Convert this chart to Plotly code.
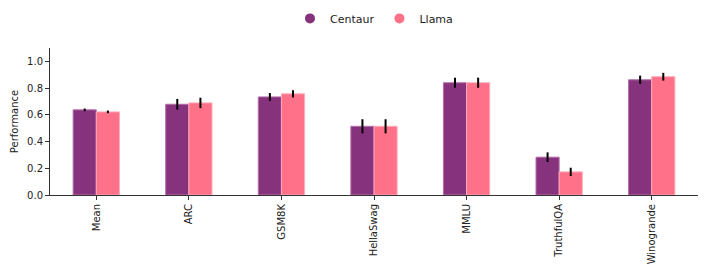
import plotly.graph_objects as go

categories = ["Mean", "ARC", "GSM8K", "HellaSwag", "MMLU", "TruthfulQA", "Winogrande"]
centaur = [0.637, 0.679, 0.734, 0.514, 0.840, 0.283, 0.862]
centaur_err = [0.010, 0.040, 0.029, 0.053, 0.038, 0.036, 0.031]
llama = [0.622, 0.689, 0.757, 0.514, 0.840, 0.173, 0.885]
llama_err = [0.010, 0.039, 0.027, 0.053, 0.038, 0.031, 0.029]

C_COL = "#86327d"
L_COL = "#ff7089"
font = "DejaVu Sans"

fig = go.Figure()
fig.add_trace(go.Bar(
    x=categories, y=centaur, name="Centaur", showlegend=False,
    marker=dict(color=C_COL, line=dict(color="rgba(180,110,170,1)", width=1)),
    error_y=dict(type="data", array=centaur_err, color="black", thickness=2, width=0),
))
fig.add_trace(go.Bar(
    x=categories, y=llama, name="Llama", showlegend=False,
    marker=dict(color=L_COL, line=dict(color="rgba(255,170,185,1)", width=1)),
    error_y=dict(type="data", array=llama_err, color="black", thickness=2, width=0),
))
fig.add_trace(go.Scatter(x=[None], y=[None], mode="markers", name="Centaur",
                         marker=dict(color=C_COL, size=10, symbol="circle")))
fig.add_trace(go.Scatter(x=[None], y=[None], mode="markers", name="Llama",
                         marker=dict(color=L_COL, size=10, symbol="circle")))

# page body has an 8px default margin, so the figure is shrunk by 8px
fig.update_layout(
    width=700, height=266,
    margin=dict(l=42, r=10, t=40, b=79, autoexpand=False),
    paper_bgcolor="white", plot_bgcolor="white",
    barmode="group", bargap=0.5, bargroupgap=0,
    font=dict(family=font, size=10, color="#222"),
    legend=dict(orientation="h", x=0.5, xanchor="center", y=1.3, yanchor="top",
                font=dict(size=11), itemsizing="trace",
                tracegroupgap=0),
    xaxis=dict(
        range=[-0.5, 6.5], showline=True, linecolor="#333", linewidth=1,
        ticks="outside", ticklen=4, tickcolor="#333", tickangle=-90,
        showgrid=False, tickfont=dict(size=10), automargin=False,
    ),
    yaxis=dict(
        range=[0, 1.1], showline=True, linecolor="#333", linewidth=1,
        ticks="outside", ticklen=4, tickcolor="#333", showgrid=False,
        tickvals=[0, 0.2, 0.4, 0.6, 0.8, 1.0], tickformat=".1f",
        title=dict(text="Performance", font=dict(size=10), standoff=6),
        zeroline=False, tickfont=dict(size=10), automargin=False,
    ),
)
fig.write_html("out.html")
